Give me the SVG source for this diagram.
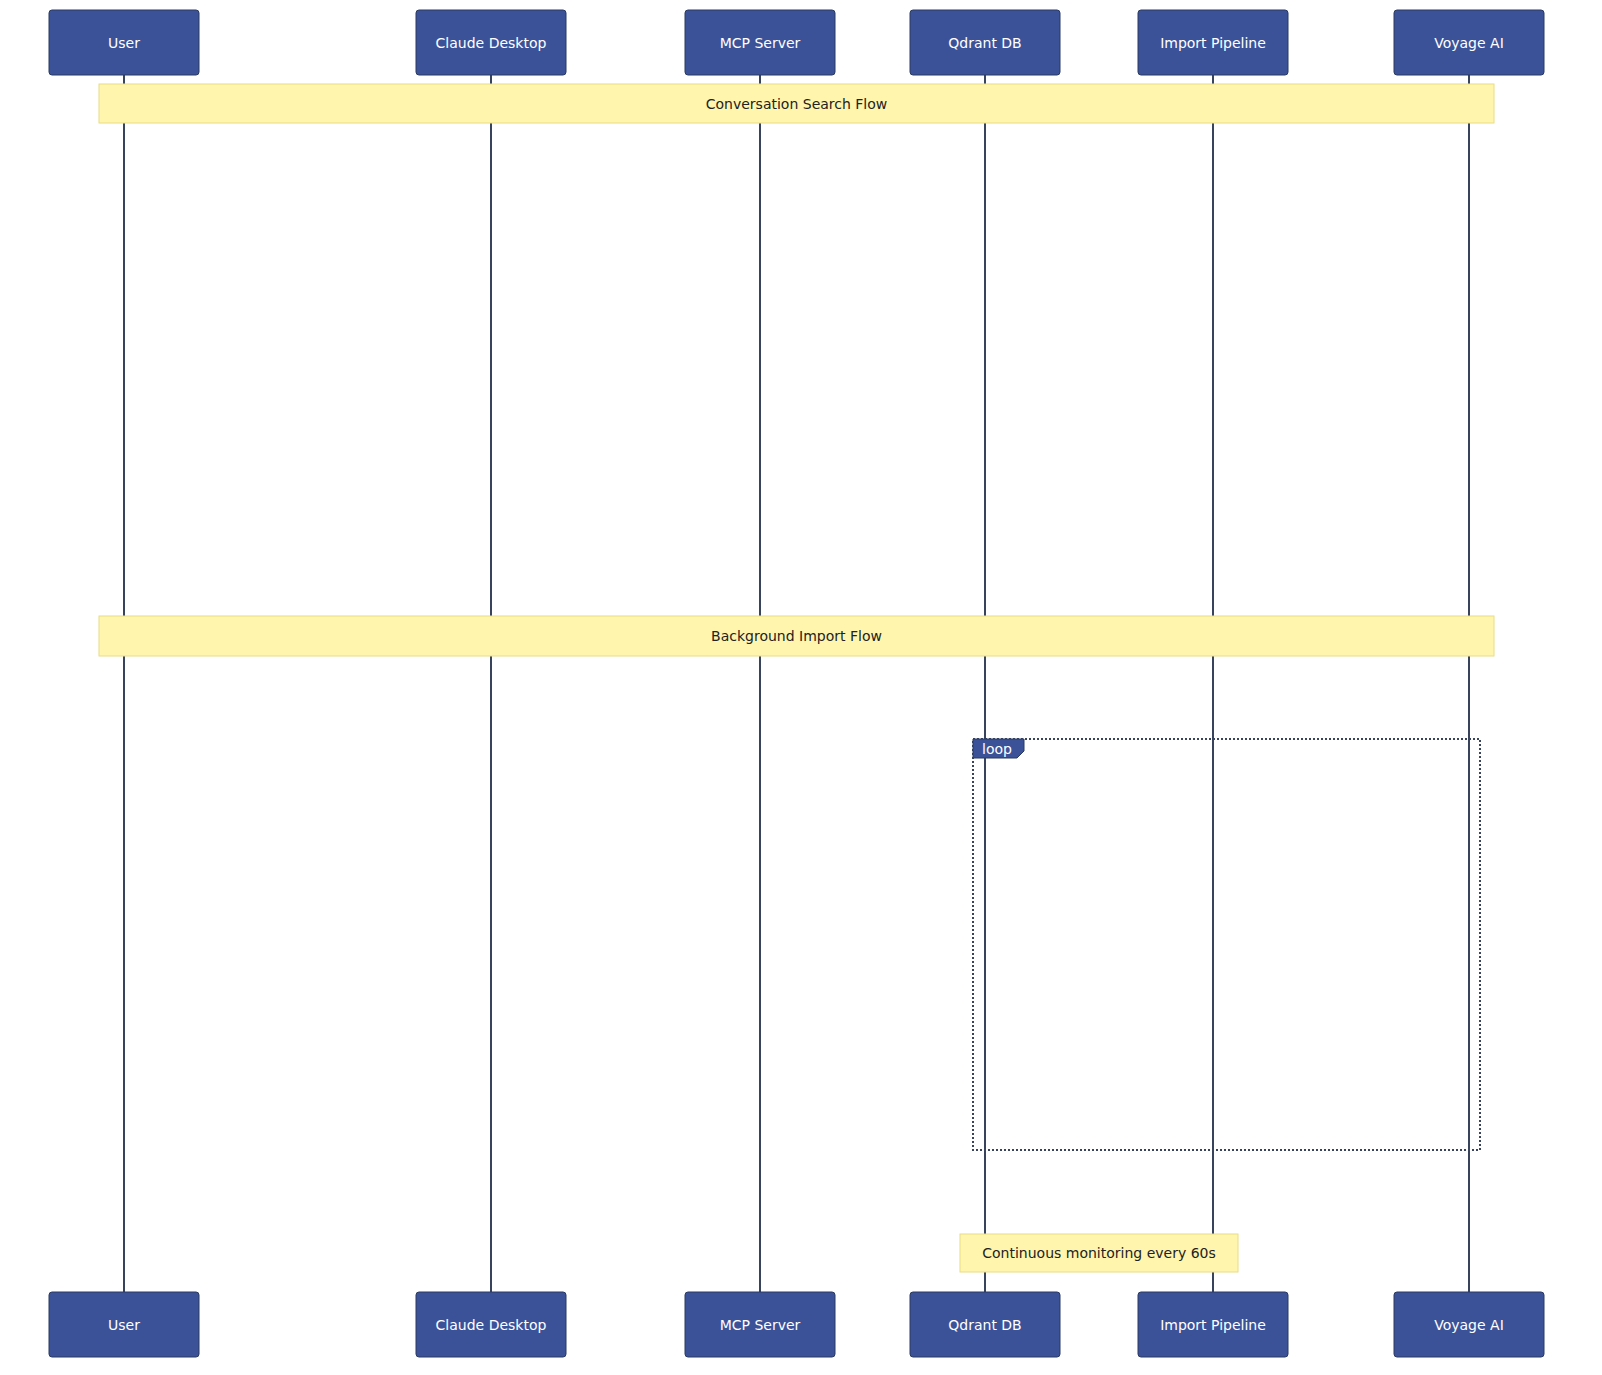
<svg xmlns="http://www.w3.org/2000/svg" width="1602" height="1375" viewBox="0 0 1602 1375">
<style>
.actor{fill:#3b5299;stroke:#2b3a63;stroke-width:1}
.atext{fill:#ffffff;font-family:"DejaVu Sans","Liberation Sans",sans-serif;font-size:14px;text-anchor:middle;dominant-baseline:central}
.life{stroke:#37445c;stroke-width:2}
.note{fill:#fff5ad;stroke:#e9dc86;stroke-width:1}
.ntext{fill:#222222;font-family:"DejaVu Sans","Liberation Sans",sans-serif;font-size:14px;text-anchor:middle;dominant-baseline:central}
.loop{fill:none;stroke:#37445c;stroke-width:2;stroke-dasharray:2,2}
</style>
<rect width="1602" height="1375" fill="#ffffff"/>
<g id="lifelines">
<line class="life" x1="124" y1="75" x2="124" y2="1292"/>
<line class="life" x1="491" y1="75" x2="491" y2="1292"/>
<line class="life" x1="760" y1="75" x2="760" y2="1292"/>
<line class="life" x1="985" y1="75" x2="985" y2="1292"/>
<line class="life" x1="1213" y1="75" x2="1213" y2="1292"/>
<line class="life" x1="1469" y1="75" x2="1469" y2="1292"/>
</g>
<g id="actor-user-top"><rect class="actor" x="49" y="10" width="150" height="65" rx="3"/><text class="atext" x="124" y="42.5">User</text></g>
<g id="actor-claude-top"><rect class="actor" x="416" y="10" width="150" height="65" rx="3"/><text class="atext" x="491" y="42.5">Claude Desktop</text></g>
<g id="actor-mcp-top"><rect class="actor" x="685" y="10" width="150" height="65" rx="3"/><text class="atext" x="760" y="42.5">MCP Server</text></g>
<g id="actor-qdrant-top"><rect class="actor" x="910" y="10" width="150" height="65" rx="3"/><text class="atext" x="985" y="42.5">Qdrant DB</text></g>
<g id="actor-import-top"><rect class="actor" x="1138" y="10" width="150" height="65" rx="3"/><text class="atext" x="1213" y="42.5">Import Pipeline</text></g>
<g id="actor-voyage-top"><rect class="actor" x="1394" y="10" width="150" height="65" rx="3"/><text class="atext" x="1469" y="42.5">Voyage AI</text></g>
<g id="note-search"><rect class="note" x="99" y="84" width="1395" height="39"/><text class="ntext" x="796.5" y="103.5">Conversation Search Flow</text></g>
<g id="note-import"><rect class="note" x="99" y="616" width="1395" height="40"/><text class="ntext" x="796.5" y="636">Background Import Flow</text></g>
<g id="loop">
<rect class="loop" x="973" y="739" width="507" height="411"/>
<path d="M973,739 H1024 V751 L1017,758 H973 Z" fill="#3b5299" stroke="#2b3a63" stroke-width="1"/>
<text x="997" y="749" fill="#ffffff" font-family="DejaVu Sans,Liberation Sans,sans-serif" font-size="14" text-anchor="middle" dominant-baseline="central">loop</text>
</g>
<g id="note-monitor"><rect class="note" x="960" y="1234" width="278" height="38"/><text class="ntext" x="1099" y="1253">Continuous monitoring every 60s</text></g>
<g id="actor-user-bottom"><rect class="actor" x="49" y="1292" width="150" height="65" rx="3"/><text class="atext" x="124" y="1324.5">User</text></g>
<g id="actor-claude-bottom"><rect class="actor" x="416" y="1292" width="150" height="65" rx="3"/><text class="atext" x="491" y="1324.5">Claude Desktop</text></g>
<g id="actor-mcp-bottom"><rect class="actor" x="685" y="1292" width="150" height="65" rx="3"/><text class="atext" x="760" y="1324.5">MCP Server</text></g>
<g id="actor-qdrant-bottom"><rect class="actor" x="910" y="1292" width="150" height="65" rx="3"/><text class="atext" x="985" y="1324.5">Qdrant DB</text></g>
<g id="actor-import-bottom"><rect class="actor" x="1138" y="1292" width="150" height="65" rx="3"/><text class="atext" x="1213" y="1324.5">Import Pipeline</text></g>
<g id="actor-voyage-bottom"><rect class="actor" x="1394" y="1292" width="150" height="65" rx="3"/><text class="atext" x="1469" y="1324.5">Voyage AI</text></g>
</svg>
